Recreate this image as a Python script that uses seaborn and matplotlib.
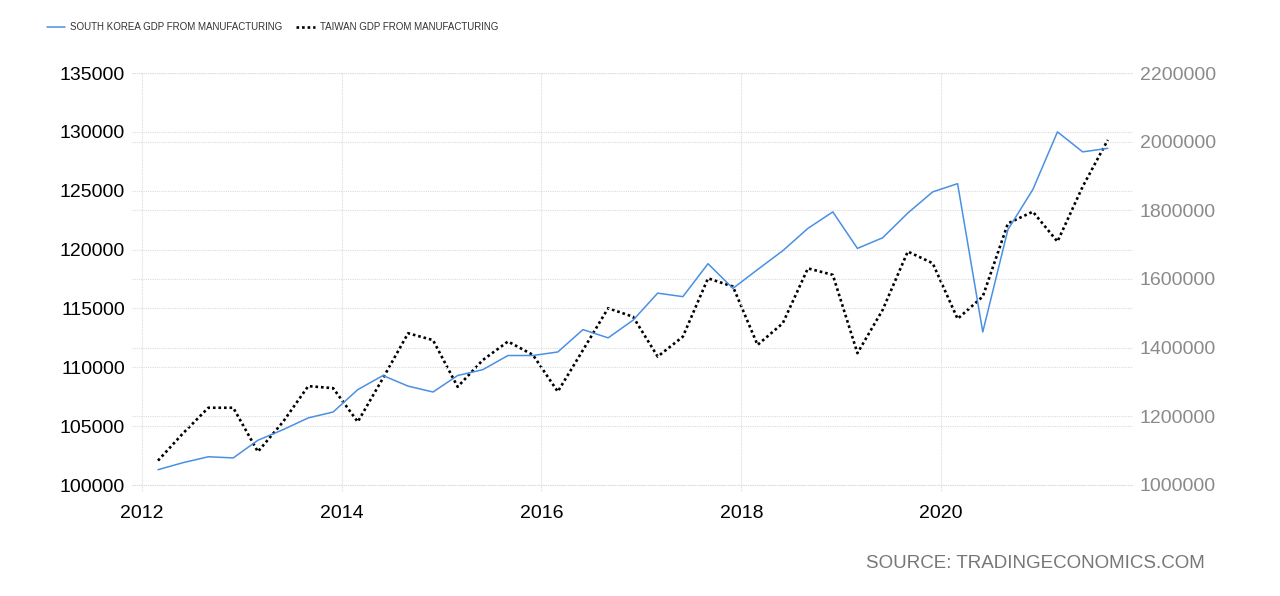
import numpy as np
import pandas as pd
import matplotlib
matplotlib.use("Agg")
import matplotlib.pyplot as plt
import matplotlib.dates as mdates
import matplotlib.ticker as mticker
import seaborn as sns

# ── Data (quarterly) ──────────────────────────────────────────────────────────
quarters = pd.date_range("2012-03-01", "2021-09-01", freq="3MS")

korea_gdp = [101300, 101900, 102400, 102300, 103800, 104700, 105700, 106200,
             108100, 109300, 108400, 107900, 109300, 109800, 111000, 111000,
             111300, 113200, 112500, 114000, 116300, 116000, 118800, 116700,
             118300, 119900, 121800, 123200, 120100, 121000, 123100, 124900,
             125600, 113000, 121700, 125100, 130000, 128300, 128600]

taiwan_gdp = [1071000, 1151000, 1225000, 1225000, 1097000, 1184000, 1288000, 1282000,
              1184000, 1311000, 1442000, 1422000, 1286000, 1364000, 1418000, 1379000,
              1272000, 1393000, 1515000, 1490000, 1374000, 1432000, 1602000, 1578000,
              1408000, 1471000, 1631000, 1612000, 1384000, 1510000, 1680000, 1646000,
              1484000, 1549000, 1762000, 1796000, 1709000, 1869000, 2005000]

left_ticks = [100000, 105000, 110000, 115000, 120000, 125000, 130000, 135000]
right_ticks = [1000000, 1200000, 1400000, 1600000, 1800000, 2000000, 2200000]

korea_label = "SOUTH KOREA GDP FROM MANUFACTURING"
taiwan_label = "TAIWAN GDP FROM MANUFACTURING"
source_text = "SOURCE: TRADINGECONOMICS.COM"

df = pd.DataFrame({"date": quarters, "korea": korea_gdp, "taiwan": taiwan_gdp})

# ── Style ─────────────────────────────────────────────────────────────────────
sns.set_style("white")
plt.rcParams["font.family"] = ["Liberation Sans", "DejaVu Sans"]

BLUE = "#4a90e2"
GRID = "#dcdcdc"

fig = plt.figure(figsize=(12.8, 5.96), dpi=100)
ax1 = fig.add_axes([132 / 1280, 1 - 492 / 596, (1133 - 132) / 1280, (492 - 73) / 596])
ax2 = ax1.twinx()

sns.lineplot(data=df, x="date", y="korea", ax=ax1, color=BLUE, lw=1.1,
             label=korea_label, legend=False)
sns.lineplot(data=df, x="date", y="taiwan", ax=ax2, color="black", lw=1.9,
             linestyle=(0, (1, 1.1)), label=taiwan_label, legend=False)

# y ranges: bottom padded a little below the lowest tick, as in the reference
pad_frac = 7 / 412
lo1, hi1 = left_ticks[0], left_ticks[-1]
lo2, hi2 = right_ticks[0], right_ticks[-1]
ax1.set_ylim(lo1 - pad_frac * (hi1 - lo1), hi1)
ax2.set_ylim(lo2 - pad_frac * (hi2 - lo2), hi2)
ax1.set_yticks(left_ticks)
ax2.set_yticks(right_ticks)
ax1.yaxis.set_major_formatter(mticker.StrMethodFormatter("{x:.0f}"))
ax2.yaxis.set_major_formatter(mticker.StrMethodFormatter("{x:.0f}"))

ax1.set_xlim(pd.Timestamp("2011-11-27"), pd.Timestamp("2021-12-02"))
ax1.xaxis.set_major_locator(mdates.YearLocator(2))
ax1.xaxis.set_major_formatter(mdates.DateFormatter("%Y"))

for ax in (ax1, ax2):
    for s in ax.spines.values():
        s.set_visible(False)
    ax.set_xlabel("")
    ax.set_ylabel("")

ax1.grid(True, axis="both", color=GRID, lw=0.8, linestyle=(0, (1, 1)))
ax2.grid(True, axis="y", color=GRID, lw=0.8, linestyle=(0, (1, 1)))
ax1.set_axisbelow(True)

ax1.tick_params(axis="y", length=0, pad=5, labelsize=14, labelcolor="black")
ax1.tick_params(axis="x", length=0, pad=9, labelsize=14, labelcolor="black")
ax2.tick_params(axis="y", length=0, pad=5, labelsize=14, labelcolor="#8a8a8a")

# korea line above the right-axis grid
ax1.set_zorder(ax2.get_zorder() + 1)
ax1.patch.set_visible(False)

# ── Legend & source ───────────────────────────────────────────────────────────
handles = ax1.get_lines()[:1] + ax2.get_lines()[:1]
fig.legend(handles, [korea_label, taiwan_label], loc="center left",
           bbox_to_anchor=(47 / 1280, 1 - 27 / 596), ncol=2, frameon=False,
           fontsize=7, handlelength=1.9, handletextpad=0.5, columnspacing=1.4,
           borderpad=0, borderaxespad=0, labelcolor="#333333")

fig.text(1205 / 1280, 1 - 563 / 596, source_text, ha="right", va="center",
         fontsize=13.5, color="#777777")

fig.savefig("out.png", dpi=100)
